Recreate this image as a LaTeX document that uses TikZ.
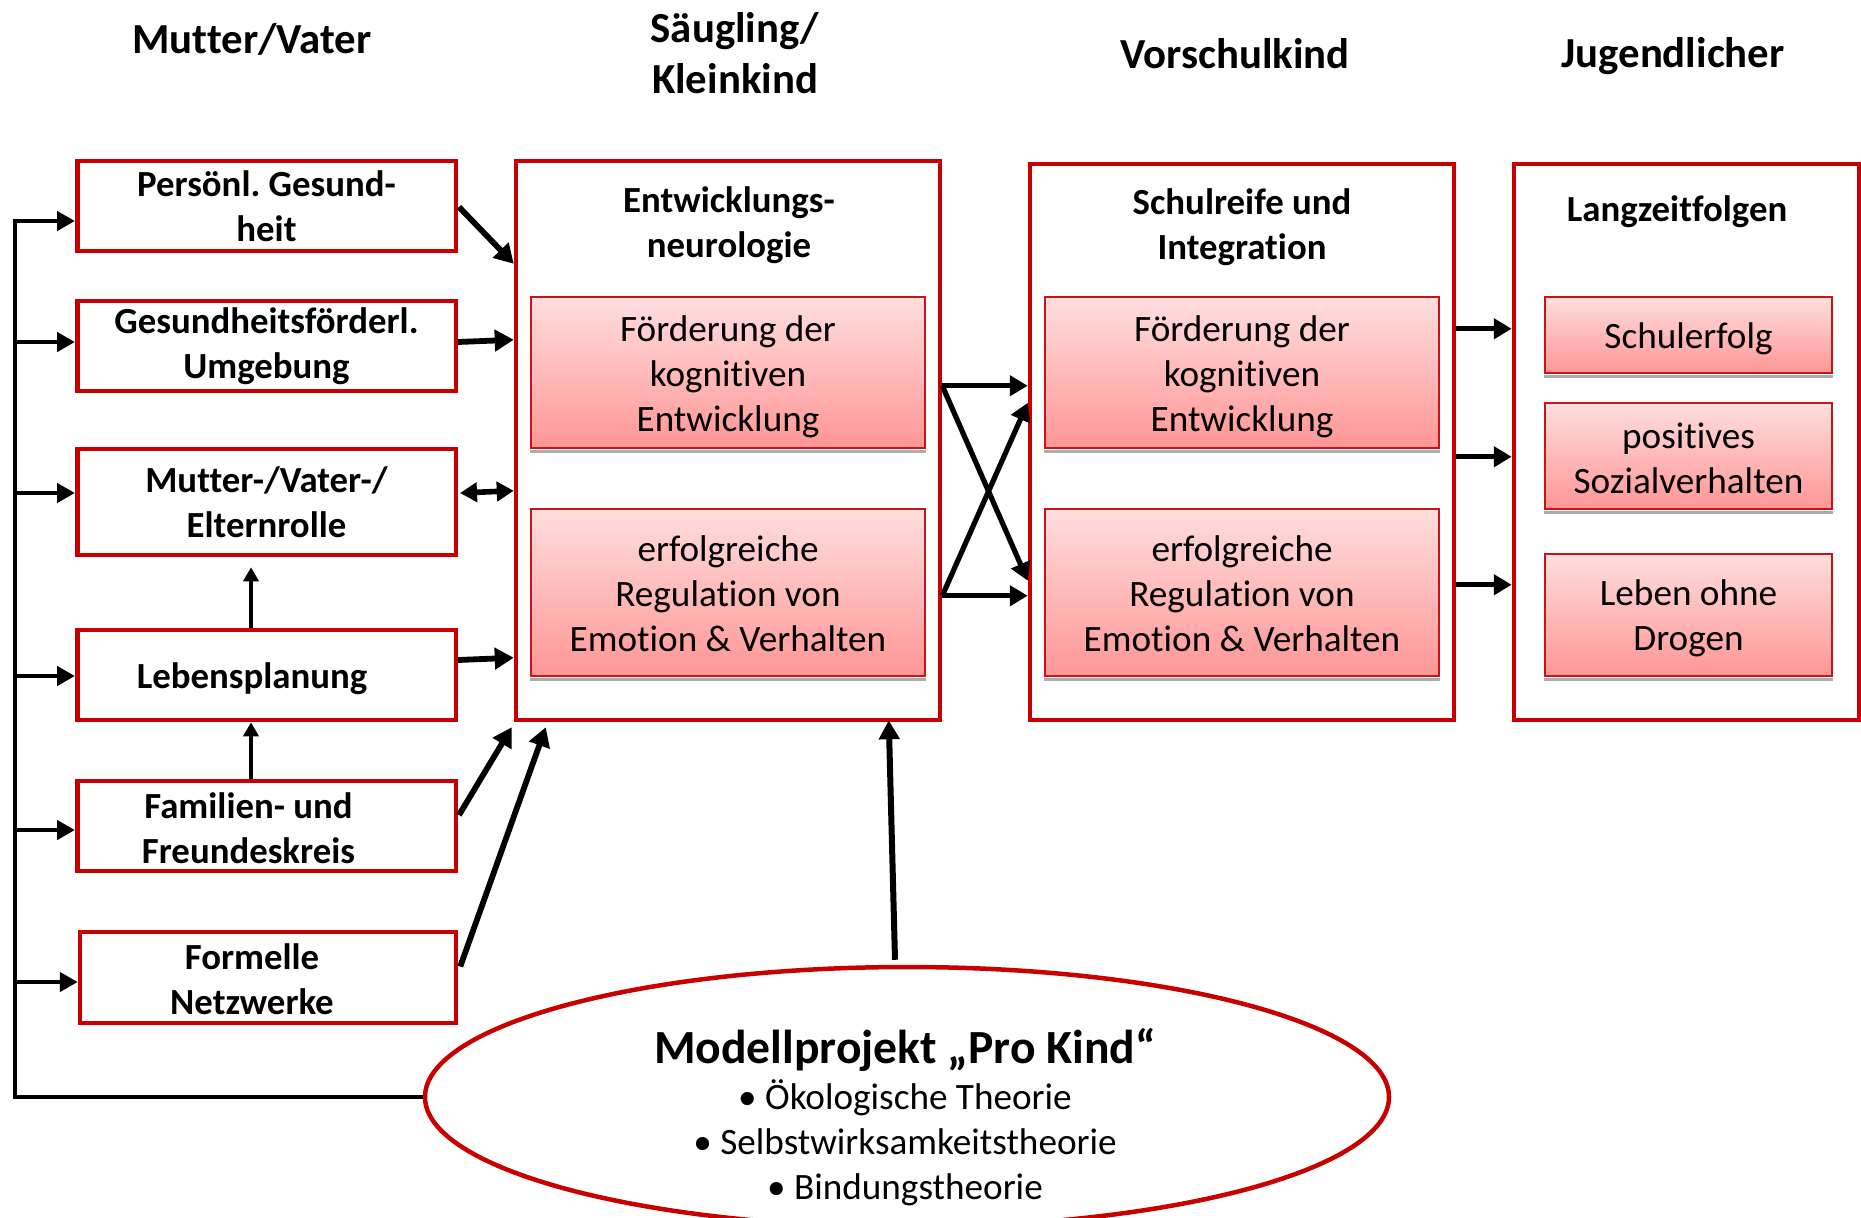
\documentclass[tikz,border=0pt]{standalone}
\usepackage{fontspec}
\setmainfont{Carlito}[Ligatures={TeX,NoCommon}]
\usetikzlibrary{arrows.meta,calc,shapes.geometric}
\definecolor{boxred}{RGB}{200,0,0}
\definecolor{pinkedge}{RGB}{200,20,20}
\definecolor{pinktop}{RGB}{255,222,222}
\definecolor{pinkbot}{RGB}{255,150,150}
\newcommand\bodyf{\fontsize{18.6}{22.5}\selectfont}
\newcommand\boldf{\fontsize{18.4}{22.5}\selectfont\bfseries}
\newcommand\headf{\fontsize{21.4}{25.5}\selectfont\bfseries}
\newcommand\ellhead{\fontsize{23.8}{28}\selectfont\bfseries}
\newcommand\topadd[2]{\raisebox{0pt}[\dimexpr\height+#1\relax]{#2}}
\frenchspacing
\begin{document}
\begin{tikzpicture}[x=0.5pt,y=-0.5pt,
  lbox/.style={draw=boxred, line width=2.25pt, minimum width=189.25pt, minimum height=45pt, inner sep=0pt, align=center, font=\boldf},
  bigbox/.style={draw=boxred, line width=2.25pt, inner sep=0pt},
  pbox/.style={draw=pinkedge, line width=0.9pt, top color=pinktop, bottom color=pinkbot, inner sep=0pt, align=center, font=\bodyf},
  head/.style={align=center, font=\headf, inner sep=0pt},
  sub/.style={align=center, font=\boldf, inner sep=0pt},
  arr/.style={line width=2.6pt, -{Triangle[length=9pt,width=10pt]}},
  larr/.style={line width=2.9pt, -{Triangle[length=9.5pt,width=10.5pt]}},
  darr/.style={line width=2.8pt, {Triangle[length=8.5pt,width=9.5pt]}-{Triangle[length=8.5pt,width=9.5pt]}},
  feed/.style={line width=2.3pt, line join=miter, -{Triangle[length=9pt,width=9.5pt]}},
  uparr/.style={line width=1.8pt, -{Triangle[length=7pt,width=7.5pt]}},
  shadowstrip/.style={fill=gray!65, draw=none}
]
\useasboundingbox (0,0) rectangle (1861,1217);

% column titles
\node[head] (t1) at (252,39) {Mutter/Vater};
\node[head] (t2) at (735,53) {Säugling/\\Kleinkind};
\node[head] (t3) at (1235,54) {Vorschulkind};
\node[head] (t4) at (1673,56.5) {Jugendlicher};

% left boxes
\node[lbox] (b1) at (266.5,206) {Persönl. Gesund-\\heit};
\node[lbox] (b2) at (266.5,346) {Gesundheitsförderl.\\Umgebung};
\node[lbox, minimum height=53pt] (b3) at (266.5,502) {Mutter-/Vater-/\\Elternrolle};
\node[lbox] (b4) at (266.5,675) {\topadd{3.5pt}{Lebensplanung}\hspace*{14.5pt}};
\node[lbox] (b5) at (266.5,826) {\topadd{2pt}{Familien- und}\hspace*{18pt}\\Freundeskreis\hspace*{18pt}};
\node[lbox, minimum width=188pt, minimum height=45.5pt] (b6) at (268,977.5) {\topadd{2pt}{Formelle}\hspace*{16pt}\\Netzwerke\hspace*{16pt}};

% big boxes
\node[bigbox, minimum width=212pt, minimum height=279.5pt] (big1) at (728,440.5) {};
\node[bigbox, minimum width=212pt, minimum height=278pt] (big2) at (1242,442) {};
\node[bigbox, minimum width=172.5pt, minimum height=278pt] (big3) at (1686.5,442) {};

\node[sub] (s1) at (729,225.5) {Entwicklungs-\\neurologie};
\node[sub] (s2) at (1242,227.5) {Schulreife und\\Integration};
\node[sub] (s3) at (1677,211.5) {Langzeitfolgen};

% pink boxes
\node[pbox, minimum width=197pt, minimum height=75.5pt] (p1a) at (728,372.5) {\topadd{4.75pt}{Förderung der}\\kognitiven\\Entwicklung};
\node[pbox, minimum width=197pt, minimum height=83.5pt] (p1b) at (728,592.5) {\topadd{1.2pt}{erfolgreiche}\\Regulation von\\Emotion \& Verhalten};
\node[pbox, minimum width=197pt, minimum height=75.5pt] (p2a) at (1242,372.5) {\topadd{4.75pt}{Förderung der}\\kognitiven\\Entwicklung};
\node[pbox, minimum width=197pt, minimum height=83.5pt] (p2b) at (1242,592.5) {\topadd{1.2pt}{erfolgreiche}\\Regulation von\\Emotion \& Verhalten};
\node[pbox, minimum width=143.5pt, minimum height=38pt] (p3a) at (1688.5,335) {\topadd{3.5pt}{Schulerfolg}};
\node[pbox, minimum width=143.5pt, minimum height=53pt] (p3b) at (1688.5,456) {\topadd{2.4pt}{positives}\\Sozialverhalten};
\node[pbox, minimum width=143.5pt, minimum height=61pt] (p3c) at (1688.5,615) {\topadd{3.5pt}{Leben ohne}\\Drogen};
\foreach \n in {p1a,p1b,p2a,p2b,p3a,p3b,p3c}
  \fill[shadowstrip] ($(\n.south west)+(0,1)$) rectangle ($(\n.south east)+(0,4.5)$);

% ellipse
\node[ellipse, draw=boxred, line width=2.25pt, minimum width=482pt, minimum height=130pt, inner sep=0pt] (ell) at (907,1097) {};
\node[font=\ellhead, inner sep=0pt] (e1) at (905,1049.5) {Modellprojekt „Pro Kind“};
\node[font=\bodyf, align=center, inner sep=0pt] (e2) at (905,1143) {• Ökologische Theorie\\• Selbstwirksamkeitstheorie\\• Bindungstheorie};

% bus and feeders
\draw[feed] (ell.west) -| ($(b1.west)+(-60,15)$) -- ($(b1.west)+(0,15)$);
\draw[feed] ($(b2.west)+(-60,-4)$) -- ($(b2.west)+(0,-4)$);
\draw[feed] ($(b3.west)+(-60,-9)$) -- ($(b3.west)+(0,-9)$);
\draw[feed] ($(b4.west)+(-60,1)$) -- ($(b4.west)+(0,1)$);
\draw[feed] ($(b5.west)+(-60,4)$) -- ($(b5.west)+(0,4)$);
\draw[feed] ($(b6.west)+(-63,4.5)$) -- ($(b6.west)+(0,4.5)$);

% left boxes to big box
\draw[larr] ($(b1.east)+(1,1)$) -- ($(big1.north west)+(0,105)$);
\draw[larr] ($(b2.east)+(0,-4)$) -- ($(big1.north west)+(0,181)$);
\draw[darr] ($(b3.east)+(2,-9)$) -- ($(big1.north west)+(0,332)$);
\draw[larr] ($(b4.east)+(0,-15)$) -- ($(big1.north west)+(0,499)$);
\draw[larr] ($(b5.east)+(1,-11)$) -- ($(big1.south west)+(-2,5)$);
\draw[larr] ($(b6.east)+(2,-11)$) -- ($(big1.south west)+(32,5)$);
\draw[uparr] ($(b4.north)+(-15.5,0)$) -- ($(b3.south)+(-15.5,10)$);
\draw[uparr] ($(b5.north)+(-15.5,0)$) -- ($(b4.south)+(-15.5,0)$);
\draw[line width=3pt, -{Triangle[length=9.5pt,width=10pt]}] ($(ell.north)+(-12,-5)$) -- ($(big1.south west)+(375,-2)$);

% cross arrows
\draw[arr] ($(big1.north east)+(0,227)$) -- ($(big2.north west)+(0,224)$);
\draw[arr] ($(big1.north east)+(0,227)$) -- ($(big2.north west)+(0,419)$);
\draw[arr] ($(big1.north east)+(0,437)$) -- ($(big2.north west)+(0,241)$);
\draw[arr] ($(big1.north east)+(0,437)$) -- ($(big2.north west)+(0,434)$);

% to long-term outcomes
\draw[arr] ($(big2.north east)+(0,167)$) -- ($(big3.north west)+(0,167)$);
\draw[arr] ($(big2.north east)+(0,295)$) -- ($(big3.north west)+(0,295)$);
\draw[arr] ($(big2.north east)+(0,423)$) -- ($(big3.north west)+(0,423)$);
\end{tikzpicture}
\end{document}
